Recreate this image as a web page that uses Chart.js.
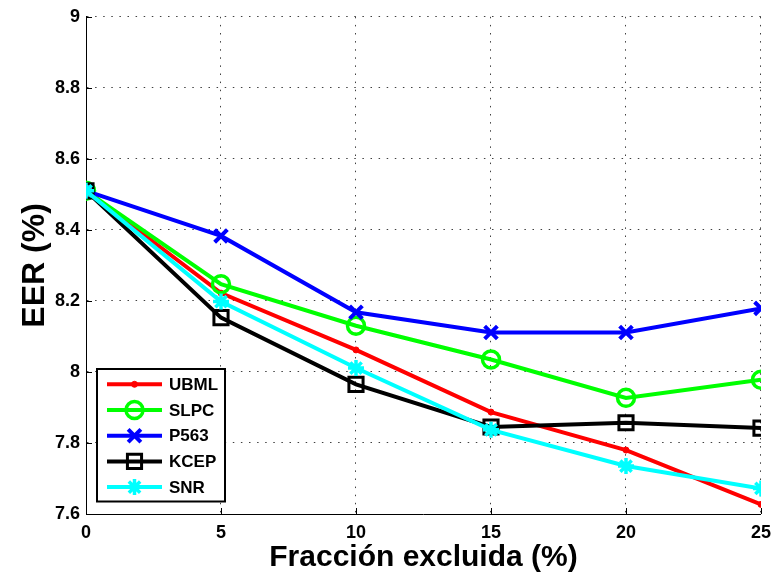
<!DOCTYPE html>
<html>
<head>
<meta charset="utf-8">
<script src="https://cdn.jsdelivr.net/npm/chart.js@4/dist/chart.umd.min.js"></script>
<style>
  html, body { margin: 0; padding: 0; background: #fff; }
  #c { display: block; }
</style>
</head>
<body>
<canvas id="c" width="779" height="584"></canvas>
<script>
// ---- data ----
const fractions = [0, 5, 10, 15, 20, 25];
const seriesNames = ['UBML', 'SLPC', 'P563', 'KCEP', 'SNR'];
const ubml = [8.51, 8.222, 8.062, 7.887, 7.780, 7.627];
const slpc = [8.51, 8.247, 8.130, 8.035, 7.927, 7.978];
const p563 = [8.51, 8.383, 8.168, 8.111, 8.111, 8.179];
const kcep = [8.51, 8.153, 7.965, 7.845, 7.857, 7.842];
const snr  = [8.51, 8.198, 8.011, 7.837, 7.735, 7.672];
const xTicks = [0, 5, 10, 15, 20, 25];
const xTickLabels = ['0', '5', '10', '15', '20', '25'];
const yTicks = [7.6, 7.8, 8, 8.2, 8.4, 8.6, 8.8, 9];
const yTickLabels = ['7.6', '7.8', '8', '8.2', '8.4', '8.6', '8.8', '9'];
const xTitle = 'Fracción excluida (%)';
const yTitle = 'EER (%)';

const FONT = '"Liberation Sans", Arial, Helvetica, sans-serif';

const styles = [
  { color: '#ff0000', pointStyle: 'circle',   radius: 3,   bw: 1,   fill: '#ff0000' },
  { color: '#00ff00', pointStyle: 'circle',   radius: 8.5, bw: 3.5, fill: 'rgba(0,0,0,0)' },
  { color: '#0000ff', pointStyle: 'crossRot', radius: 9,   bw: 4,   fill: 'rgba(0,0,0,0)' },
  { color: '#000000', pointStyle: 'rect',     radius: 10,  bw: 3,   fill: 'rgba(0,0,0,0)' },
  { color: '#00ffff', pointStyle: 'star',     radius: 8,   bw: 3.5, fill: 'rgba(0,0,0,0)' }
];
const seriesValues = [ubml, slpc, p563, kcep, snr];

const datasets = seriesValues.map((vals, i) => ({
  label: seriesNames[i],
  data: fractions.map((x, j) => ({ x: x, y: vals[j] })),
  borderColor: styles[i].color,
  backgroundColor: styles[i].color,
  borderWidth: 4,
  pointStyle: styles[i].pointStyle,
  pointRadius: styles[i].radius,
  pointBorderWidth: styles[i].bw,
  pointBorderColor: styles[i].color,
  pointBackgroundColor: styles[i].fill,
  pointHoverRadius: styles[i].radius,
  tension: 0,
  fill: false,
  order: seriesNames.length - i
}));

// inward tick marks on left and bottom axes
const inwardTicks = {
  id: 'inwardTicks',
  beforeDatasetsDraw(chart) {
    const { ctx, chartArea, scales } = chart;
    ctx.save();
    ctx.strokeStyle = '#000';
    ctx.lineWidth = 1;
    const L = 6;
    scales.y.ticks.forEach(t => {
      const y = Math.round(scales.y.getPixelForValue(t.value)) + 0.5;
      ctx.beginPath();
      ctx.moveTo(chartArea.left, y);
      ctx.lineTo(chartArea.left + L, y);
      ctx.stroke();
    });
    scales.x.ticks.forEach(t => {
      const x = Math.round(scales.x.getPixelForValue(t.value)) + 0.5;
      ctx.beginPath();
      ctx.moveTo(x, chartArea.bottom);
      ctx.lineTo(x, chartArea.bottom - L);
      ctx.stroke();
    });
    ctx.restore();
  }
};

// Matlab-style legend box in the lower-left corner
const boxLegend = {
  id: 'boxLegend',
  afterDatasetsDraw(chart) {
    const { ctx, chartArea } = chart;
    const left = chartArea.left + 11, top = 369;
    const w = 128, rowH = 25.7, firstY = top + 15.3;
    const h = rowH * seriesNames.length + 4;
    ctx.save();
    ctx.fillStyle = '#fff';
    ctx.fillRect(left, top, w, h);
    ctx.strokeStyle = '#000';
    ctx.lineWidth = 2;
    ctx.strokeRect(left, top, w, h);
    chart.data.datasets.forEach((ds, i) => {
      const y = firstY + i * rowH;
      const x1 = left + 10, x2 = left + 65, xm = (x1 + x2) / 2;
      ctx.strokeStyle = ds.borderColor;
      ctx.lineWidth = 4;
      ctx.beginPath();
      ctx.moveTo(x1, y);
      ctx.lineTo(x2, y);
      ctx.stroke();
      ctx.fillStyle = ds.pointBackgroundColor;
      ctx.strokeStyle = ds.pointBorderColor;
      ctx.lineWidth = ds.pointBorderWidth;
      Chart.helpers.drawPoint(ctx, {
        pointStyle: ds.pointStyle, radius: ds.pointRadius, rotation: 0, borderWidth: ds.pointBorderWidth
      }, xm, y);
      ctx.fillStyle = '#000';
      ctx.font = 'bold 17px ' + FONT;
      ctx.textAlign = 'left';
      ctx.textBaseline = 'middle';
      ctx.fillText(ds.label, left + 72, y + 1);
    });
    ctx.restore();
  }
};

new Chart(document.getElementById('c'), {
  type: 'line',
  data: { datasets: datasets },
  options: {
    responsive: false,
    animation: false,
    events: [],
    layout: { padding: { top: 15, right: 14, left: 0, bottom: 0 } },
    plugins: { legend: { display: false }, tooltip: { enabled: false } },
    scales: {
      x: {
        type: 'linear',
        min: 0, max: 25,
        afterBuildTicks: s => { s.ticks = xTicks.map(v => ({ value: v })); },
        afterFit: s => { s.height = 70; },
        ticks: {
          color: '#000',
          font: { family: FONT, size: 18, weight: 'bold' },
          padding: 8,
          maxRotation: 0,
          callback: (v, i) => xTickLabels[i]
        },
        grid: { color: 'rgba(0,0,0,0.75)', lineWidth: 1, drawTicks: false },
        border: { display: true, color: '#000', width: 1, dash: [1.5, 6.6] },
        title: {
          display: true, text: xTitle, color: '#000',
          font: { family: FONT, size: 30, weight: 'bold' },
          padding: { top: 0, bottom: 8 }
        }
      },
      y: {
        type: 'linear',
        min: 7.6, max: 9,
        afterBuildTicks: s => { s.ticks = yTicks.map(v => ({ value: v })); },
        afterFit: s => { s.width = 86; },
        ticks: {
          color: '#000',
          font: { family: FONT, size: 18, weight: 'bold' },
          padding: 6,
          callback: (v, i) => yTickLabels[i]
        },
        grid: { color: 'rgba(0,0,0,0.75)', lineWidth: 1, drawTicks: false },
        border: { display: true, color: '#000', width: 1, dash: [1.5, 6.6] },
        title: {
          display: true, text: yTitle, color: '#000',
          font: { family: FONT, size: 32, weight: 'bold' },
          padding: { top: 16, bottom: 0 }
        }
      }
    }
  },
  plugins: [inwardTicks, boxLegend]
});
</script>
</body>
</html>
